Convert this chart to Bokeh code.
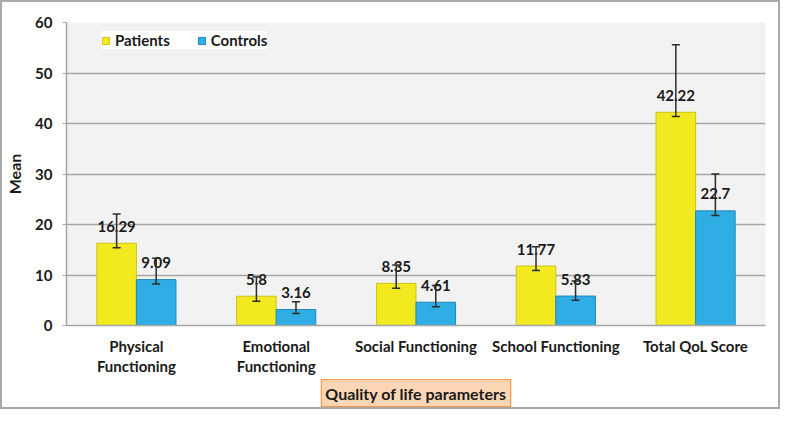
from bokeh.plotting import figure
from bokeh.models import ColumnDataSource, Whisker, TeeHead, Title, Range1d, FactorRange, FixedTicker
from bokeh.transform import dodge
from bokeh.core.properties import value
from bokeh.embed import file_html
from bokeh.resources import INLINE

categories = ["Physical\nFunctioning", "Emotional\nFunctioning", "Social Functioning",
              "School Functioning", "Total QoL Score"]
patients = [16.29, 5.8, 8.35, 11.77, 42.22]
controls = [9.09, 3.16, 4.61, 5.83, 22.7]
patients_err_hi = [22.1, 9.6, 12.0, 15.6, 55.6]
patients_err_lo = [15.4, 4.8, 7.4, 10.9, 41.4]
controls_err_hi = [13.3, 4.7, 7.9, 8.8, 30.0]
controls_err_lo = [8.2, 2.4, 3.7, 5.0, 21.8]
y_ticks = [0, 10, 20, 30, 40, 50, 60]

FONT = "Lato"
YELLOW = "#f2ea1f"
YELLOW_EDGE = "#cbc31b"
BLUE = "#2eaee4"
BLUE_EDGE = "#1c88bb"
GRID = "#a6a6a6"
TXT = "#1a1a1a"

src = ColumnDataSource(dict(
    cat=categories,
    patients=patients, controls=controls,
    p_hi=patients_err_hi, p_lo=patients_err_lo,
    c_hi=controls_err_hi, c_lo=controls_err_lo,
    p_lbl=[f"{v:g}" for v in patients],
    c_lbl=[f"{v:g}" for v in controls],
))

p = figure(x_range=FactorRange(*categories), y_range=Range1d(0, 60),
           width=780, height=409, output_backend="svg", toolbar_location=None,
           min_border_left=62, min_border_right=17, min_border_top=20, min_border_bottom=86)
p.styles = {"border": "2px solid #a9a9a9"}
p.background_fill_color = "#f2f2f2"
p.border_fill_color = "white"
p.outline_line_color = None

off = 0.1415
w = 0.283
p.vbar(x=dodge("cat", -off, range=p.x_range), top="patients", width=w, source=src,
       fill_color=YELLOW, line_color=YELLOW_EDGE, line_width=1, legend_label="Patients")
p.vbar(x=dodge("cat", off, range=p.x_range), top="controls", width=w, source=src,
       fill_color=BLUE, line_color=BLUE_EDGE, line_width=1, legend_label="Controls")

for col, ycol, dx in (("p_lbl", "patients", -off), ("c_lbl", "controls", off)):
    p.text(x=dodge("cat", dx, range=p.x_range), y=ycol, text=col, source=src,
           text_align="center", text_baseline="middle", y_offset=-17,
           text_font=value(FONT), text_font_style="bold", text_font_size="15px",
           text_color=TXT)

for hi, lo, dx in (("p_hi", "p_lo", -off), ("c_hi", "c_lo", off)):
    wk = Whisker(source=src, base=dodge("cat", dx, range=p.x_range), upper=hi, lower=lo,
                 dimension="height", line_color="#2b2b2b", line_width=1.5, level="overlay",
                 upper_head=TeeHead(size=8, line_color="#2b2b2b", line_width=1.5),
                 lower_head=TeeHead(size=8, line_color="#2b2b2b", line_width=1.5))
    p.add_layout(wk)

# grid
p.xgrid.grid_line_color = None
p.ygrid.grid_line_color = GRID
p.ygrid.grid_line_width = 1.5
p.ygrid.ticker = FixedTicker(ticks=y_ticks)

# y axis
p.yaxis.ticker = FixedTicker(ticks=y_ticks)
p.yaxis.axis_line_color = GRID
p.yaxis.axis_line_width = 1.5
p.yaxis.major_tick_line_color = GRID
p.yaxis.major_tick_out = 4
p.yaxis.major_tick_in = 0
p.yaxis.minor_tick_line_color = None
p.yaxis.major_label_standoff = 10
p.yaxis.major_label_text_font = FONT
p.yaxis.major_label_text_font_style = "bold"
p.yaxis.major_label_text_font_size = "15px"
p.yaxis.major_label_text_color = TXT
p.yaxis.axis_label = "Mean"
p.yaxis.axis_label_text_font = FONT
p.yaxis.axis_label_text_font_style = "bold"
p.yaxis.axis_label_text_font_size = "16px"
p.yaxis.axis_label_text_color = TXT
p.yaxis.axis_label_standoff = 8

# x axis
p.xaxis.axis_line_color = GRID
p.xaxis.axis_line_width = 1.5
p.xaxis.major_tick_line_color = None
p.xaxis.major_tick_out = 0
p.xaxis.major_label_standoff = 11
p.xaxis.major_label_text_font = FONT
p.xaxis.major_label_text_font_style = "bold"
p.xaxis.major_label_text_font_size = "15px"
p.xaxis.major_label_text_color = TXT
p.xaxis.major_label_text_line_height = 1.12

# x-axis title box
xt = Title(text="Quality of life parameters", align="center",
           text_font=FONT, text_font_style="bold", text_font_size="16px",
           text_color=TXT, background_fill_color="#fcd5b4",
           border_line_color="#f79646", border_line_width=1.2,
           padding=4, standoff=0, offset=0)
p.add_layout(xt, "below")

# legend
lg = p.legend[0]
lg.orientation = "horizontal"
lg.location = (35, 276)
lg.background_fill_color = "white"
lg.background_fill_alpha = 1
lg.border_line_color = None
lg.padding = 7
lg.spacing = 27
lg.label_standoff = 5
lg.glyph_width = 9
lg.glyph_height = 9
lg.label_text_font = FONT
lg.label_text_font_style = "bold"
lg.label_text_font_size = "15px"
lg.label_text_color = TXT

open("out.html", "w").write(file_html(p, INLINE))
